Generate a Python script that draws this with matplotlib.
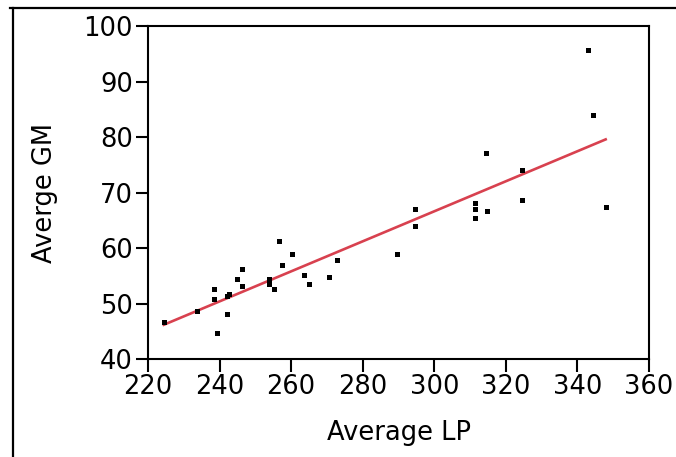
import numpy as np
import matplotlib
matplotlib.use('Agg')
import matplotlib.pyplot as plt
from matplotlib.lines import Line2D

# Average LP vs average GM, one point per sample
avg_lp = [224.4, 233.6, 238.4, 238.4, 239.2, 242.0, 242.7, 242.0, 244.8,
          246.2, 246.2, 253.8, 253.8, 255.3, 256.7, 257.4, 260.2, 263.7,
          265.1, 270.7, 272.8, 289.6, 294.6, 294.6, 311.4, 311.4, 311.4,
          314.8, 314.5, 324.6, 324.6, 342.9, 344.3, 347.9]
avg_gm = [46.6, 48.6, 52.7, 50.9, 44.7, 51.3, 51.7, 48.2, 54.4,
          56.2, 53.2, 54.4, 53.5, 52.7, 61.3, 57.0, 58.9, 55.1,
          53.6, 54.7, 57.8, 59.0, 67.0, 64.0, 68.2, 67.0, 65.5,
          66.7, 77.1, 74.0, 68.6, 95.6, 84.0, 67.4]

x_ticks = [220, 240, 260, 280, 300, 320, 340, 360]
y_ticks = [40, 50, 60, 70, 80, 90, 100]

plt.rcParams['font.family'] = ['DejaVu Sans']

fig = plt.figure(figsize=(6.76, 4.57), dpi=100)
ax = fig.add_axes([0.219, 0.2144, 0.741, 0.7286])

# least squares line over the data range
slope, intercept = np.polyfit(avg_lp, avg_gm, 1)
xfit = np.array([min(avg_lp), max(avg_lp)])
ax.plot(xfit, slope * xfit + intercept, color='#d8414f', lw=1.9, zorder=2)

ax.plot(avg_lp, avg_gm, 's', color='black', ms=3.6, mew=0, zorder=3)

ax.set_xlim(220, 360)
ax.set_ylim(40, 100)
ax.set_xticks(x_ticks)
ax.set_yticks(y_ticks)
ax.tick_params(direction='out', length=9, width=1.5, labelsize=18.5, pad=2)
for s in ax.spines.values():
    s.set_linewidth(1.5)

ax.set_xlabel('Average LP', fontsize=18.5, labelpad=14)
ax.set_ylabel('Averge GM', fontsize=18.5, labelpad=18)

# outer border (top and left edges only)
fig.add_artist(Line2D([10 / 676, 1], [1 - 7.5 / 457, 1 - 7.5 / 457],
                      transform=fig.transFigure, color='black', lw=1.6))
fig.add_artist(Line2D([12.5 / 676, 12.5 / 676], [0, 1 - 7.5 / 457],
                      transform=fig.transFigure, color='black', lw=1.6))

fig.savefig('out.png', dpi=100)
